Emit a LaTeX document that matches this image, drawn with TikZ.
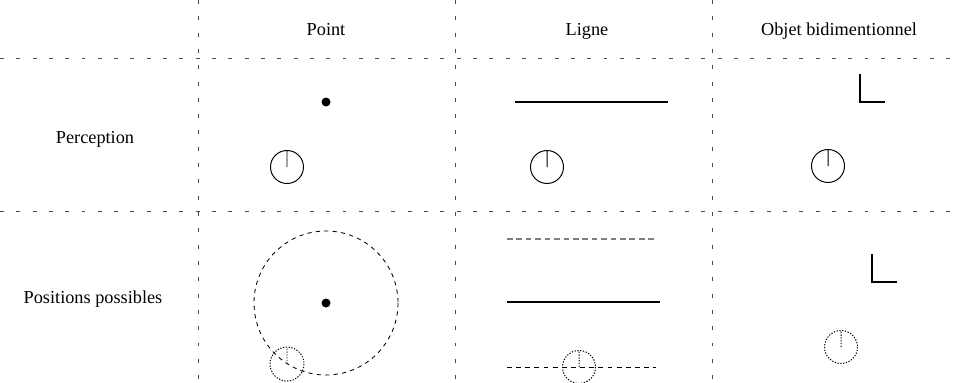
\documentclass[tikz,border=0pt]{standalone}
\usepackage{fontspec}
\setmainfont{Liberation Serif}
\usepackage{tikz}
\usetikzlibrary{positioning}

\begin{document}
\begin{tikzpicture}[
  x=0.025cm, y=-0.025cm,
  grid/.style={dash pattern=on 2.8pt off 8.8pt, line width=0.6pt, gray!60!black},
  head/.style={font=\fontsize{13}{15}\selectfont, anchor=base},
  viewer/.style={line width=0.7pt},
  ghost/.style={dash pattern=on 0.9pt off 1.1pt, line width=0.7pt},
  obj/.style={line width=1.3pt},
  corner/.style={line width=2pt}
]
  \useasboundingbox (0,0) rectangle (957,382);

  % table
  \draw[grid] (198,0) -- (198,382);
  \draw[grid] (455,0) -- (455,382);
  \draw[grid] (712,0) -- (712,382);
  \draw[grid] (0,58) -- (957,58);
  \draw[grid] (0,211) -- (957,211);

  \node[head] (hpoint) at (326,35)  {Point};
  \node[head] (hligne) at (587,35)  {Ligne};
  \node[head] (hobjet) at (839,35)  {Objet bidimentionnel};
  \node[head] (rperc)  at (95,143)  {Perception};
  \node[head] (rpos)   at (93,303)  {Positions possibles};

  % perception
  \fill (326,102) circle (4.5);
  \draw[viewer] (287,167) circle (16.5) (287,167) -- (287,150.5);
  \draw[obj] (515,102) -- (668,102);
  \draw[viewer] (547,167) circle (16.5) (547,167) -- (547,150.5);
  \draw[corner] (860,74) -- (860,102) -- (885,102);
  \draw[viewer] (828,166) circle (16.5) (828,166) -- (828,149.5);

  % positions possibles
  \draw[dashed, line width=0.6pt] (326,303) circle (72);
  \fill (326,303) circle (4.5);
  \draw[ghost] (287,364) circle (17) (287,364) -- (287,347);
  \draw[dash pattern=on 4pt off 2.7pt, gray, line width=0.8pt] (507,239) -- (656,239);
  \draw[obj] (507,302) -- (660,302);
  \draw[dash pattern=on 3.5pt off 3pt, line width=0.6pt] (507,367) -- (656,367);
  \draw[ghost] (579,367) circle (16.5) (579,367) -- (579,350.5);
  \draw[corner] (872,254) -- (872,282) -- (897,282);
  \draw[ghost] (841,347) circle (16.5) (841,347) -- (841,330.5);
\end{tikzpicture}
\end{document}
